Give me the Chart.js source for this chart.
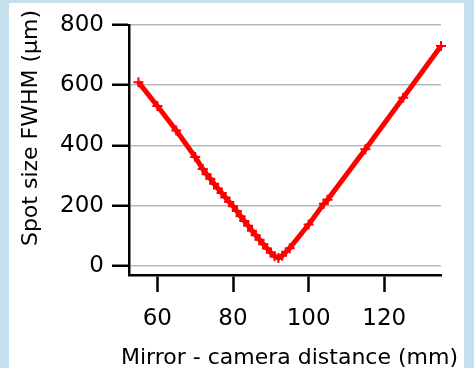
<!DOCTYPE html>
<html>
<head>
<meta charset="utf-8">
<script src="https://cdn.jsdelivr.net/npm/chart.js@4"></script>
<style>
  html, body { margin: 0; padding: 0; background: #c6dfee; }
  #frame { position: absolute; left: 9px; top: 3px; width: 455px; height: 365px; background: #fff; }
  canvas { display: block; }
</style>
</head>
<body>
<div id="frame"><canvas id="spotChart" width="455" height="365"></canvas></div>
<script>
// distance mirror -> camera (mm) and measured spot size (um)
const distances = [55, 60, 65, 70, 72, 73, 74, 75, 76, 77, 78, 79, 80, 81, 82, 83, 84, 85, 86, 87, 88, 89, 90, 91, 92, 93, 95, 100, 104, 105, 115, 125, 135];
const spotSizes = [610, 531, 450, 362, 322, 305, 290, 273, 258, 243, 228, 213, 199, 183, 166, 150, 134, 118, 103, 88, 73, 59, 45, 33, 27, 35, 60, 138, 207, 220, 388, 558, 730];
const xTicks = [60, 80, 100, 120];
const yTicks = [0, 200, 400, 600, 800];
const xTitle = 'Mirror - camera distance (mm)';
const yTitle = 'Spot size FWHM (µm)';

// axis titles drawn by hand: the built-in ones get squeezed to the axis length
const axisTitles = {
    id: 'axisTitles',
    afterDraw(chart) {
        const c = chart.ctx;
        c.save();
        c.font = '22px "DejaVu Sans"';
        c.fillStyle = '#000';
        c.textAlign = 'center';
        c.textBaseline = 'alphabetic';
        c.fillText(xTitle, 280.5, 361);
        c.translate(27.5, 125);
        c.rotate(-Math.PI / 2);
        c.fillText(yTitle, 0, 0);
        c.restore();
    }
};

document.addEventListener('DOMContentLoaded', function() {
    const ctx = document.getElementById('spotChart').getContext('2d');
    const font = { family: 'DejaVu Sans', size: 23 };

    new Chart(ctx, {
        type: 'scatter',
        data: {
            datasets: [{
                data: distances.map((d, i) => ({ x: d, y: spotSizes[i] })),
                showLine: true,
                borderColor: '#ff0000',
                backgroundColor: '#ff0000',
                borderWidth: 5,
                tension: 0,
                pointStyle: 'cross',
                pointRadius: 5,
                pointBorderWidth: 2,
                pointBorderColor: '#ff0000',
                clip: false
            }]
        },
        options: {
            responsive: false,
            animation: false,
            layout: { padding: { left: 0, right: 23, top: 12, bottom: 0 } },
            plugins: { legend: { display: false }, tooltip: { enabled: false } },
            scales: {
                x: {
                    type: 'linear',
                    min: 52.5,
                    max: 135,
                    afterBuildTicks: axis => { axis.ticks = xTicks.map(v => ({ value: v })); },
                    afterFit: axis => { axis.height = 93; },
                    grid: { drawOnChartArea: false, drawTicks: true, tickLength: 17, tickColor: '#000', tickWidth: 2.5 },
                    border: { color: '#000', width: 2.5 },
                    ticks: { color: '#000', font: font, padding: 13, maxRotation: 0 }
                },
                y: {
                    type: 'linear',
                    min: -29,
                    max: 800,
                    afterBuildTicks: axis => { axis.ticks = yTicks.map(v => ({ value: v })); },
                    afterFit: axis => { axis.width = 120; },
                    grid: { color: '#b8b8b8', lineWidth: 1.5, tickLength: 17, tickColor: '#000', tickWidth: 2.5 },
                    border: { color: '#000', width: 2.5 },
                    ticks: { color: '#000', font: font, padding: 8 }
                }
            }
        },
        plugins: [axisTitles]
    });
});
</script>
</body>
</html>
